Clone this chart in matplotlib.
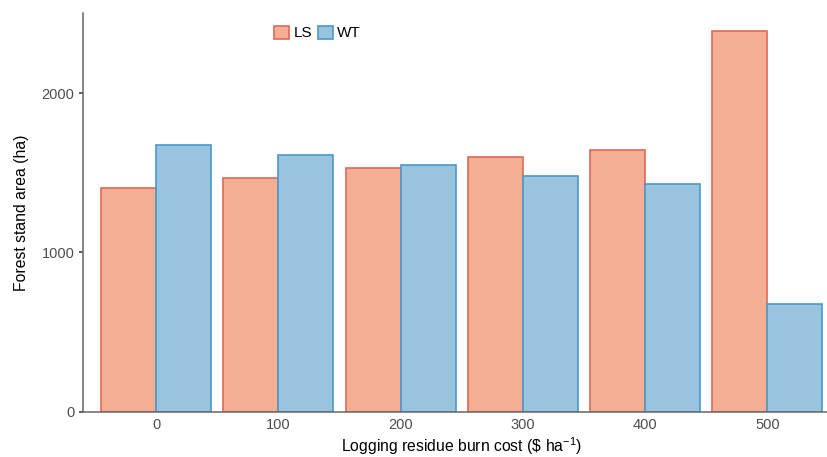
import numpy as np
import matplotlib
matplotlib.use('Agg')
import matplotlib.pyplot as plt
from matplotlib.patches import Patch

plt.rcParams['font.family'] = ['Liberation Sans', 'DejaVu Sans']
plt.rcParams['mathtext.default'] = 'regular'

# data
costs = ['0', '100', '200', '300', '400', '500']
ls_area = [1402, 1465, 1528, 1597, 1641, 2394]
wt_area = [1673, 1610, 1547, 1478, 1428, 679]

ls_fill, ls_edge = '#F4AE93', '#DE6A58'
wt_fill, wt_edge = '#99C4DE', '#4A98CC'

fig = plt.figure(figsize=(8.28, 4.57), dpi=100)
ax = fig.add_axes([82.7 / 828, (457 - 411.7) / 457, 758 / 828, (411.7 - 13) / 457])

x = np.arange(len(costs))
w = 0.45
ax.bar(x - w / 2, ls_area, width=w, color=ls_fill, edgecolor=ls_edge, linewidth=1.2)
ax.bar(x + w / 2, wt_area, width=w, color=wt_fill, edgecolor=wt_edge, linewidth=1.2)

ax.set_xlim(-0.6, 5.6)
ax.set_ylim(0, 2504)
ax.set_xticks(x)
ax.set_xticklabels(costs)
ax.set_yticks([0, 1000, 2000])

for s in ['top', 'right']:
    ax.spines[s].set_visible(False)
for s in ['left', 'bottom']:
    ax.spines[s].set_color('#666666')
    ax.spines[s].set_linewidth(1.1)

ax.tick_params(axis='x', length=0, pad=4.5, labelsize=10.5, labelcolor='#4D4D4D')
ax.tick_params(axis='y', length=3, width=1.1, color='#333333', pad=3,
               labelsize=10.5, labelcolor='#4D4D4D')

ax.set_xlabel(r'Logging residue burn cost (\$ ha$^{-1}$)', fontsize=11.3, labelpad=2.5)
ax.set_ylabel('Forest stand area (ha)', fontsize=11.3, labelpad=9)

handles = [Patch(facecolor=ls_fill, edgecolor=ls_edge, linewidth=1.2, label='LS'),
           Patch(facecolor=wt_fill, edgecolor=wt_edge, linewidth=1.2, label='WT')]
ax.legend(handles=handles, loc='center', bbox_to_anchor=(0.31, 0.95), ncol=2,
          frameon=False, fontsize=11, handlelength=0.95, handleheight=0.95,
          handletextpad=0.3, columnspacing=0.4, borderpad=0)

fig.savefig('out.png', dpi=100)
